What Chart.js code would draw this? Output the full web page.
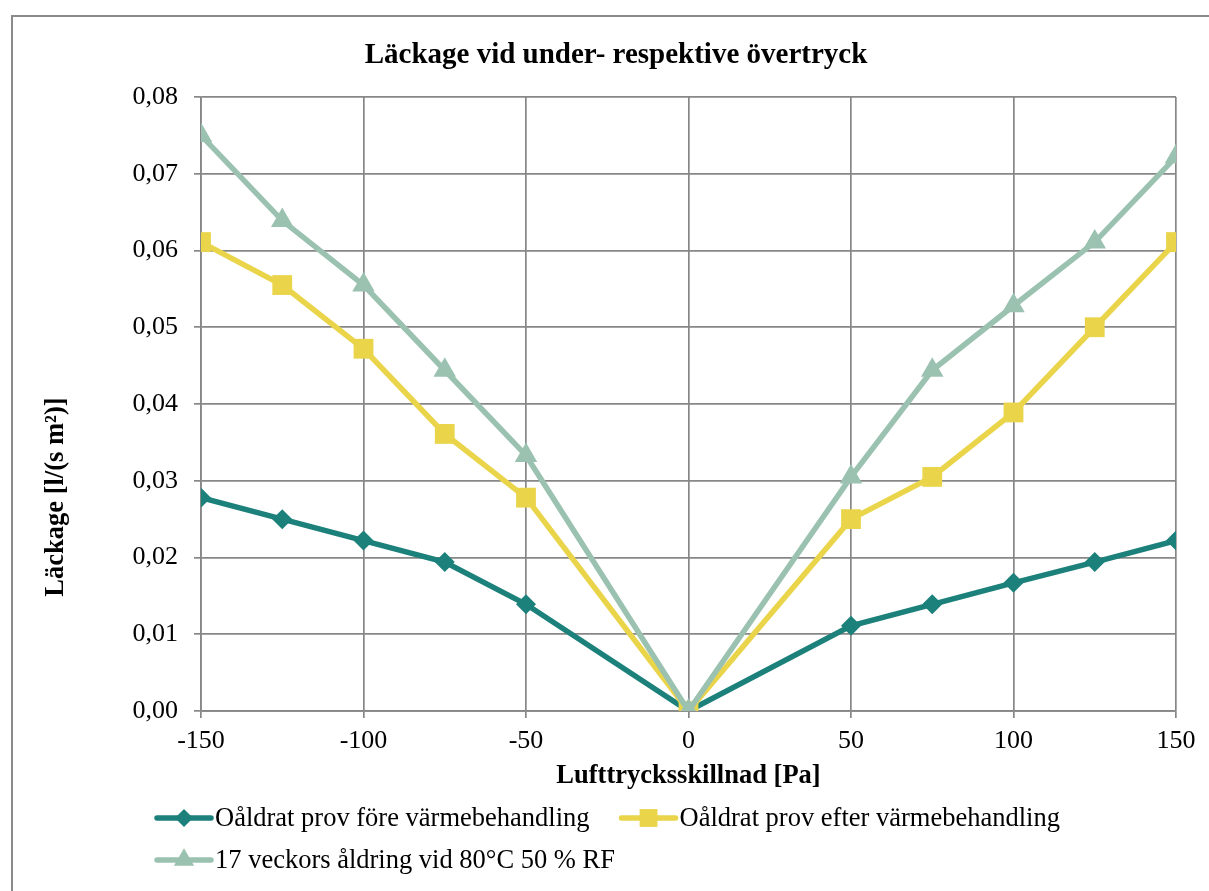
<!DOCTYPE html>
<html>
<head>
<meta charset="utf-8">
<script src="https://cdn.jsdelivr.net/npm/chart.js@4.4.1/dist/chart.umd.min.js"></script>
<style>
  html, body { margin: 0; padding: 0; background: #fff; }
  #wrap { position: relative; width: 1209px; height: 891px; }
</style>
</head>
<body>
<div id="wrap"><canvas id="chart"></canvas></div>
<script>
// Lufttrycksskillnad [Pa]
const pressure = [-150, -125, -100, -75, -50, 0, 50, 75, 100, 125, 150];

// Läckage [l/(s m²)]
const fore = [0.0278, 0.0250, 0.0222, 0.0194, 0.0139, 0, 0.0111, 0.0139, 0.0167, 0.0194, 0.0222];
const efter = [0.0611, 0.0555, 0.0472, 0.0361, 0.0278, 0, 0.0250, 0.0305, 0.0389, 0.0500, 0.0611];
const aldring = [0.0750, 0.0639, 0.0555, 0.0444, 0.0333, 0, 0.0305, 0.0444, 0.0528, 0.0611, 0.0722];

const seriesNames = [
    'Oåldrat prov före värmebehandling',
    'Oåldrat prov efter värmebehandling',
    '17 veckors åldring vid 80°C 50 % RF'
];
const seriesColors = ['#1c807b', '#ead44a', '#9bc2b1'];
const seriesShapes = ['rectRot', 'rect', 'triangle'];
const seriesRadius = [10, 14, 13];

const titleText = 'Läckage vid under- respektive övertryck';
const xTitle = 'Lufttrycksskillnad [Pa]';
const yTitle = 'Läckage [l/(s m²)]';

const FONT = '"Liberation Serif", "Times New Roman", serif';
const GRID = '#878787';

function toPoints(values) {
    return pressure.map((x, i) => ({ x: x, y: values[i] }));
}

const datasets = [fore, efter, aldring].map((vals, i) => ({
    label: seriesNames[i],
    data: toPoints(vals),
    borderColor: seriesColors[i],
    backgroundColor: seriesColors[i],
    borderWidth: 5.5,
    pointStyle: seriesShapes[i],
    pointRadius: seriesRadius[i],
    pointHoverRadius: seriesRadius[i],
    pointBorderWidth: 0,
    tension: 0,
    order: 3 - i
}));

// ram, titlar och legend ritas för hand
const decorPlugin = {
    id: 'decor',
    beforeDraw(chart) {
        const ctx = chart.ctx;
        ctx.save();
        ctx.fillStyle = '#fff';
        ctx.fillRect(0, 0, chart.width, chart.height);
        ctx.strokeStyle = '#8a8a8a';
        ctx.lineWidth = 2;
        ctx.strokeRect(12, 16, chart.width + 20, chart.height + 20);
        ctx.restore();
    },
    afterDraw(chart) {
        const ctx = chart.ctx;
        const area = chart.chartArea;
        ctx.save();
        ctx.fillStyle = '#000';
        ctx.textBaseline = 'middle';

        // huvudtitel
        ctx.font = 'bold 29px ' + FONT;
        ctx.textAlign = 'center';
        ctx.fillText(titleText, 616, 56);

        // axeltitlar
        ctx.font = 'bold 26.5px ' + FONT;
        ctx.fillText(xTitle, (area.left + area.right) / 2, 776);

        ctx.save();
        ctx.translate(56, 497);
        ctx.rotate(-Math.PI / 2);
        ctx.fillText(yTitle, 0, 0);
        ctx.restore();

        // legend
        ctx.font = '26.5px ' + FONT;
        ctx.textAlign = 'left';
        const rows = [[0, 1], [2]];
        const rowY = [818, 860];
        rows.forEach((row, r) => {
            let x = 157;
            row.forEach(i => {
                const y = rowY[r];
                ctx.strokeStyle = seriesColors[i];
                ctx.lineWidth = 5.5;
                ctx.lineCap = 'round';
                ctx.beginPath();
                ctx.moveTo(x, y);
                ctx.lineTo(x + 54, y);
                ctx.stroke();
                ctx.fillStyle = seriesColors[i];
                Chart.helpers.drawPoint(ctx, {
                    pointStyle: seriesShapes[i],
                    radius: seriesRadius[i] * 0.9,
                    rotation: 0,
                    borderWidth: 0
                }, x + 27, y);
                ctx.fillStyle = '#000';
                ctx.fillText(seriesNames[i], x + 58, y + 1);
                x += 58 + ctx.measureText(seriesNames[i]).width + 32;
            });
        });
        ctx.restore();
    }
};

new Chart(document.getElementById('chart'), {
    type: 'line',
    data: { datasets: datasets },
    plugins: [decorPlugin],
    options: {
        responsive: true,
        maintainAspectRatio: false,
        animation: false,
        layout: { padding: { left: 0, right: 33, top: 97, bottom: 0 } },
        plugins: {
            legend: { display: false },
            title: { display: false },
            tooltip: { enabled: false }
        },
        scales: {
            x: {
                type: 'linear',
                min: -150,
                max: 150,
                afterFit: s => { s.height = 180; },
                ticks: {
                    stepSize: 50,
                    padding: 8,
                    color: '#000',
                    font: { family: FONT, size: 26 }
                },
                grid: { color: GRID, lineWidth: 1.7, tickLength: 7 },
                border: { color: GRID, width: 1.7 }
            },
            y: {
                min: 0,
                max: 0.08,
                afterFit: s => { s.width = 201; },
                ticks: {
                    stepSize: 0.01,
                    padding: 16,
                    color: '#000',
                    font: { family: FONT, size: 26 },
                    callback: v => v.toFixed(2).replace('.', ',')
                },
                grid: { color: GRID, lineWidth: 1.7, tickLength: 7 },
                border: { color: GRID, width: 1.7 }
            }
        }
    }
});
</script>
</body>
</html>
